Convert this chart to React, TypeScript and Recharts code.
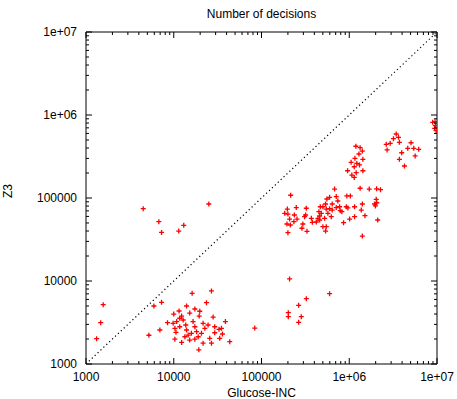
import React from "react";
import {
  ScatterChart,
  Scatter,
  XAxis,
  YAxis,
  ReferenceLine,
  ReferenceArea,
} from "recharts";

// Glucose-INC decisions (x) vs Z3 decisions (y)
const glucoseInc: number[] = [
  // low cluster
  16200, 26900, 1570, 5940, 7260, 1470, 1320, 5210, 6950, 23600, 14000, 17400,
  10000, 11500, 12300, 15200, 19800, 19500, 28100, 38800, 83800, 43500, 19300,
  8490, 9840, 10300, 10600, 11700, 12800, 13700, 14000, 14600, 15200, 16600,
  17400, 18200, 19000, 20700, 21600, 22600, 24600, 25700, 26900, 29300, 29300,
  32800, 35000, 35900, 33400, 12300, 10300, 13400, 15900, 17400, 21600, 11700,
  10800,
  // upper left
  4490, 6760, 7260, 11400, 13000, 25100,
  // middle
  209000, 597000, 324000, 265000, 202000, 202000, 284000, 265000,
  // upper cluster A
  1190000, 1330000, 1410000, 1290000, 1160000, 1430000, 1050000, 1220000,
  1140000, 1310000, 1430000, 957000, 1200000, 1070000, 1140000,
  // upper cluster B
  3430000, 3190000, 3640000, 3730000, 2640000, 2930000, 2700000, 3960000,
  4640000, 5060000, 5430000, 6190000, 5640000, 3730000, 4260000,
  // right edge
  8930000, 9500000, 9590000, 9770000, 9400000,
  // main cluster
  215000, 681000, 1330000, 1690000, 2050000, 2270000, 556000, 597000, 711000,
  741000, 939000, 1030000, 1410000, 2030000, 1940000, 2060000, 1990000,
  1510000, 2110000, 1410000, 197000, 184000, 249000, 200000, 209000, 195000,
  200000, 237000, 234000, 213000, 254000, 324000, 318000, 310000, 296000,
  289000, 330000, 370000, 380000, 440000, 460000, 451000, 468000, 501000,
  537000, 547000, 597000, 480000, 571000, 524000, 501000, 537000, 547000,
  421000, 460000, 624000, 711000, 776000, 789000, 925000, 964000, 824000,
  1150000, 1370000, 1150000, 1010000, 861000, 640000, 640000,
];

const z3: number[] = [
  // low cluster
  7100, 7590, 5180, 5000, 5530, 3150, 2020, 2220, 2570, 5480, 5000, 4600,
  4000, 4350, 3780, 4110, 4320, 3780, 3680, 3240, 2710, 1860, 1480,
  3150, 3090, 2690, 2410, 2810, 3390, 2950, 2570, 2230, 1940, 3240,
  2810, 2450, 2130, 2340, 3090, 2690, 2950, 2040, 1780, 2810, 2380,
  2620, 2690, 2300, 2040, 1820, 1990, 2130, 2340, 1990, 1780, 3560,
  3240,
  // upper left
  74300, 51800, 38500, 40000, 46900, 84700,
  // middle
  10600, 7030, 6120, 5090, 4150, 3720, 3720, 3180,
  // upper cluster A
  420000, 404000, 368000, 339000, 301000, 292000, 269000, 261000,
  238000, 250000, 213000, 213000, 202000, 189000, 177000,
  // upper cluster B
  590000, 518000, 538000, 469000, 443000, 456000, 379000, 351000,
  397000, 463000, 397000, 386000, 321000, 292000, 243000,
  // right edge
  817000, 830000, 743000, 647000, 690000,
  // main cluster
  108000, 128000, 131000, 128000, 129000, 126000, 97200, 102000, 104000,
  92000, 106000, 106000, 84700, 96400, 84700, 87700, 80200,
  61200, 54300, 34800, 73600, 65400, 76600, 64100, 55800, 48600,
  38200, 62400, 51800, 47300, 55800, 75200, 62400, 59600, 48600,
  43200, 39700, 56900, 50900, 56900, 60700, 68400, 78500, 78500,
  84700, 73600, 74300, 65400, 65400, 56900, 45100, 40000, 45100,
  51400, 54300, 59600, 76600, 78500, 70300, 78500, 75900, 68400,
  78500, 71600, 59600, 55800, 50400, 71600, 84700,
];

const majorTicks: number[] = [1000, 10000, 100000, 1000000, 10000000];
const tickLabels: string[] = ["1000", "10000", "100000", "1e+06", "1e+07"];

const allTicks: number[] = [];
majorTicks.forEach((m, i) => {
  allTicks.push(m);
  if (i < majorTicks.length - 1) {
    for (let k = 2; k <= 9; k++) allTicks.push(m * k);
  }
});

const points = glucoseInc.map((x, i) => ({ x, y: z3[i] }));
const font = "'Liberation Sans', Arial, sans-serif";

const labelFor = (v: number) => {
  const idx = majorTicks.findIndex((m) => Math.abs(m - v) / m < 1e-6);
  return idx >= 0 ? tickLabels[idx] : null;
};

// plot box edges (px), used by tick renderers to mirror ticks on top/right
const TOP = 32;
const RIGHT = 437;

const BottomTick = (props: any) => {
  const { x, y, payload } = props;
  const label = labelFor(payload.value);
  const len = label ? 6 : 3;
  return (
    <g>
      <line x1={x} x2={x} y1={y} y2={y - len} stroke="#000" strokeWidth={1} />
      <line x1={x} x2={x} y1={TOP} y2={TOP + len} stroke="#000" strokeWidth={1} />
      {label && (
        <text x={x} y={y + 17} textAnchor="middle" fontSize={12} fontFamily={font} fill="#000">
          {label}
        </text>
      )}
    </g>
  );
};

const LeftTick = (props: any) => {
  const { x, y, payload } = props;
  const label = labelFor(payload.value);
  const len = label ? 6 : 3;
  return (
    <g>
      <line x1={x} x2={x + len} y1={y} y2={y} stroke="#000" strokeWidth={1} />
      <line x1={RIGHT} x2={RIGHT - len} y1={y} y2={y} stroke="#000" strokeWidth={1} />
      {label && (
        <text x={x - 9} y={y + 4} textAnchor="end" fontSize={12} fontFamily={font} fill="#000">
          {label}
        </text>
      )}
    </g>
  );
};

const PlusShape = (props: any) => {
  const { cx, cy } = props;
  const r = 2.5;
  return (
    <path
      d={`M${cx - r},${cy}H${cx + r}M${cx},${cy - r}V${cy + r}`}
      stroke="#ff0000"
      strokeWidth={1.3}
      fill="none"
    />
  );
};

export default function App() {
  return (
    <div style={{ position: "absolute", left: 0, top: 0, width: 457, height: 399, background: "#fff" }}>
      <ScatterChart width={457} height={399} margin={{ top: 32, right: 20, bottom: 0, left: 0 }}>
        <XAxis
          type="number"
          dataKey="x"
          scale="log"
          domain={[1000, 10000000]}
          ticks={allTicks}
          interval={0}
          tickSize={0}
          tickMargin={0}
          height={35}
          axisLine={false}
          tick={<BottomTick />}
          allowDataOverflow
          label={{ value: "Glucose-INC", position: "insideBottom", offset: 2, fontSize: 12, fontFamily: font, fill: "#000" }}
        />
        <YAxis
          type="number"
          dataKey="y"
          scale="log"
          domain={[1000, 10000000]}
          ticks={allTicks}
          interval={0}
          tickSize={0}
          tickMargin={0}
          width={86}
          axisLine={false}
          tick={<LeftTick />}
          allowDataOverflow
          label={{ value: "Z3", angle: -90, position: "insideLeft", offset: 8, fontSize: 12, fontFamily: font, fill: "#000" }}
        />
        <ReferenceArea
          x1={1000}
          x2={10000000}
          y1={1000}
          y2={10000000}
          fill="none"
          fillOpacity={0}
          stroke="#000"
          strokeWidth={1}
          ifOverflow="visible"
        />
        <ReferenceLine
          segment={[{ x: 1000, y: 1000 }, { x: 10000000, y: 10000000 }]}
          stroke="#000"
          strokeDasharray="1.2 2.8"
          strokeWidth={1.2}
          ifOverflow="hidden"
        />
        <Scatter data={points} shape={<PlusShape />} isAnimationActive={false} />
        <text x={261.5} y={18} textAnchor="middle" fontSize={12} fontFamily={font} fill="#000">
          Number of decisions
        </text>
      </ScatterChart>
    </div>
  );
}
